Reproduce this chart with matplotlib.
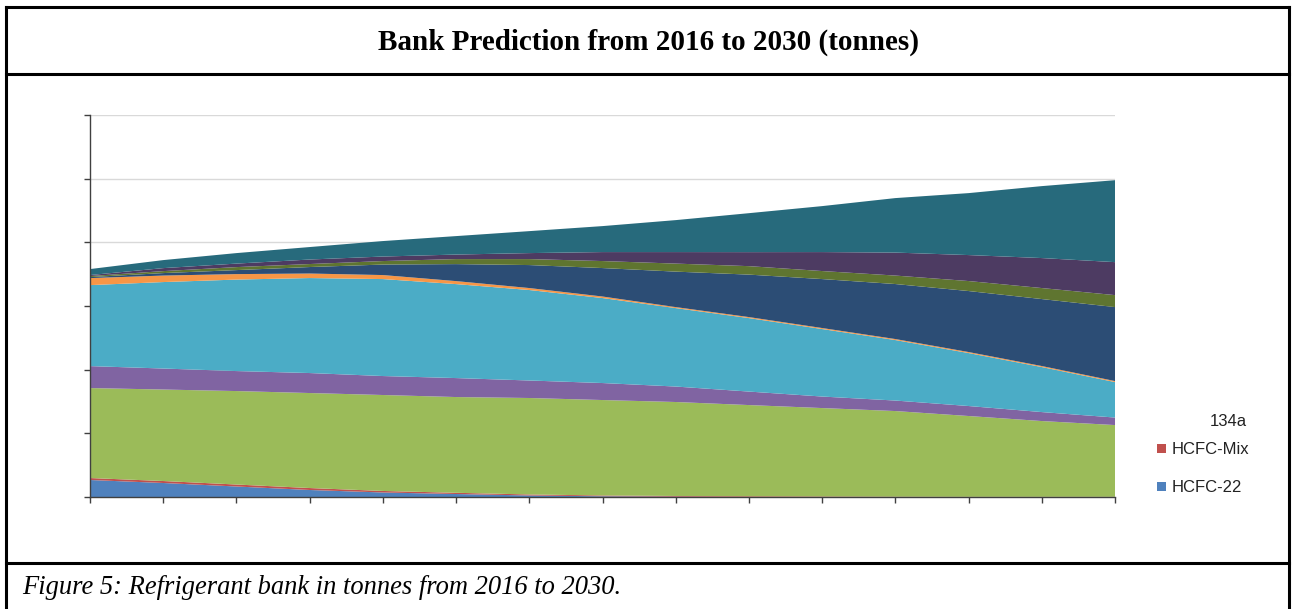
import matplotlib.pyplot as plt
from matplotlib.patches import Rectangle
from matplotlib.lines import Line2D

# refrigerant bank per year, tonnes (stacked from the bottom up)
years = list(range(2016, 2031))

hcfc22 = [2670, 2200, 1650, 1100, 710, 470, 240, 110, 50, 0, 0, 0, 0, 0, 0]
hcfc_mix = [310, 310, 310, 310, 240, 190, 160, 130, 110, 110, 80, 50, 30, 30, 30]
hfc134a = [14130, 14370, 14680, 14920, 15070, 15040, 15150, 14990, 14760,
           14330, 13890, 13450, 12690, 11900, 11270]
series_4 = [3450, 3300, 3140, 3140, 2980, 2980, 2750, 2670, 2430, 2120,
            1810, 1650, 1570, 1410, 1180]
series_5 = [12720, 13580, 14370, 14920, 15230, 14760, 14210, 13350, 12320,
            11540, 10600, 9500, 8320, 7070, 5570]
series_6 = [1100, 1020, 860, 710, 630, 470, 310, 240, 160, 160, 160, 160,
            160, 160, 160]
series_7 = [160, 390, 630, 1020, 1650, 2670, 3610, 4470, 5570, 6670, 7690,
            8640, 9580, 10520, 11620]
series_8 = [160, 310, 470, 470, 550, 790, 940, 1100, 1260, 1330, 1260, 1330,
            1570, 1730, 1880]
series_9 = [160, 470, 550, 710, 710, 710, 940, 1410, 1810, 2200, 2980, 3610,
            4080, 4710, 5180]
series_10 = [940, 1260, 1650, 1960, 2430, 2900, 3450, 4080, 5020, 6120, 7220,
             8560, 9730, 11300, 12870]

legend_labels = ['134a', 'HCFC-Mix', 'HCFC-22']

colors = ['#4F81BD', '#C0504D', '#9BBB59', '#8064A2', '#4BACC6', '#F79646',
          '#2C4D75', '#5F7530', '#4D3B62', '#276A7C']

W, H = 1292, 609
fig = plt.figure(figsize=(W / 100, H / 100), dpi=100)


def fx(px):
    return px / W


def fy(py):
    return 1 - py / H


ax = fig.add_axes([fx(90), fy(497), fx(1115) - fx(90), fy(115) - fy(497)])
ax.stackplot(years, hcfc22, hcfc_mix, hfc134a, series_4, series_5, series_6,
             series_7, series_8, series_9, series_10, colors=colors,
             linewidth=0)

ax.set_xlim(2016, 2030)
ax.set_ylim(0, 60000)
ax.set_xticks(years)
ax.set_yticks(range(0, 60001, 10000))
ax.set_xticklabels([])
ax.set_yticklabels([])
ax.grid(axis='y', color='#D9D9D9', linewidth=1)
ax.set_axisbelow(True)
for side in ['top', 'right']:
    ax.spines[side].set_visible(False)
for side in ['left', 'bottom']:
    ax.spines[side].set_color('#404040')
    ax.spines[side].set_linewidth(1)
ax.tick_params(direction='out', length=4, width=1, color='#404040')

# frame around the whole figure, with title and caption rows
black = dict(color='black', linewidth=2.2, transform=fig.transFigure)
fig.add_artist(Line2D([fx(6), fx(1289)], [fy(7), fy(7)], **black))
fig.add_artist(Line2D([fx(6), fx(6)], [fy(7), fy(609)], **black))
fig.add_artist(Line2D([fx(1289), fx(1289)], [fy(7), fy(609)], **black))
fig.add_artist(Line2D([fx(6), fx(1289)], [fy(74), fy(74)], **black))
fig.add_artist(Line2D([fx(6), fx(1289)], [fy(563), fy(563)], **black))

fig.text(fx(649), fy(42), 'Bank Prediction from 2016 to 2030 (tonnes)',
         family='Liberation Serif', fontweight='bold', fontsize=21,
         ha='center', va='center')
fig.text(fx(22), fy(588), 'Figure 5: Refrigerant bank in tonnes from 2016 to 2030.',
         family='Liberation Serif', style='italic', fontsize=19.1,
         ha='left', va='center')

# legend, clipped so only the lower entries show
legend_font = dict(family='Liberation Sans', fontsize=12, va='center',
                   ha='left', color='#222222')
fig.text(fx(1210), fy(422), legend_labels[0], **legend_font)
fig.text(fx(1172), fy(449), legend_labels[1], **legend_font)
fig.text(fx(1172), fy(488), legend_labels[2], **legend_font)
for py, c in [(448, colors[1]), (486, colors[0])]:
    fig.add_artist(Rectangle((fx(1157), fy(py + 5)), fx(9), 9 / H,
                             facecolor=c, edgecolor='none',
                             transform=fig.transFigure))

fig.savefig('out.png', dpi=100)
